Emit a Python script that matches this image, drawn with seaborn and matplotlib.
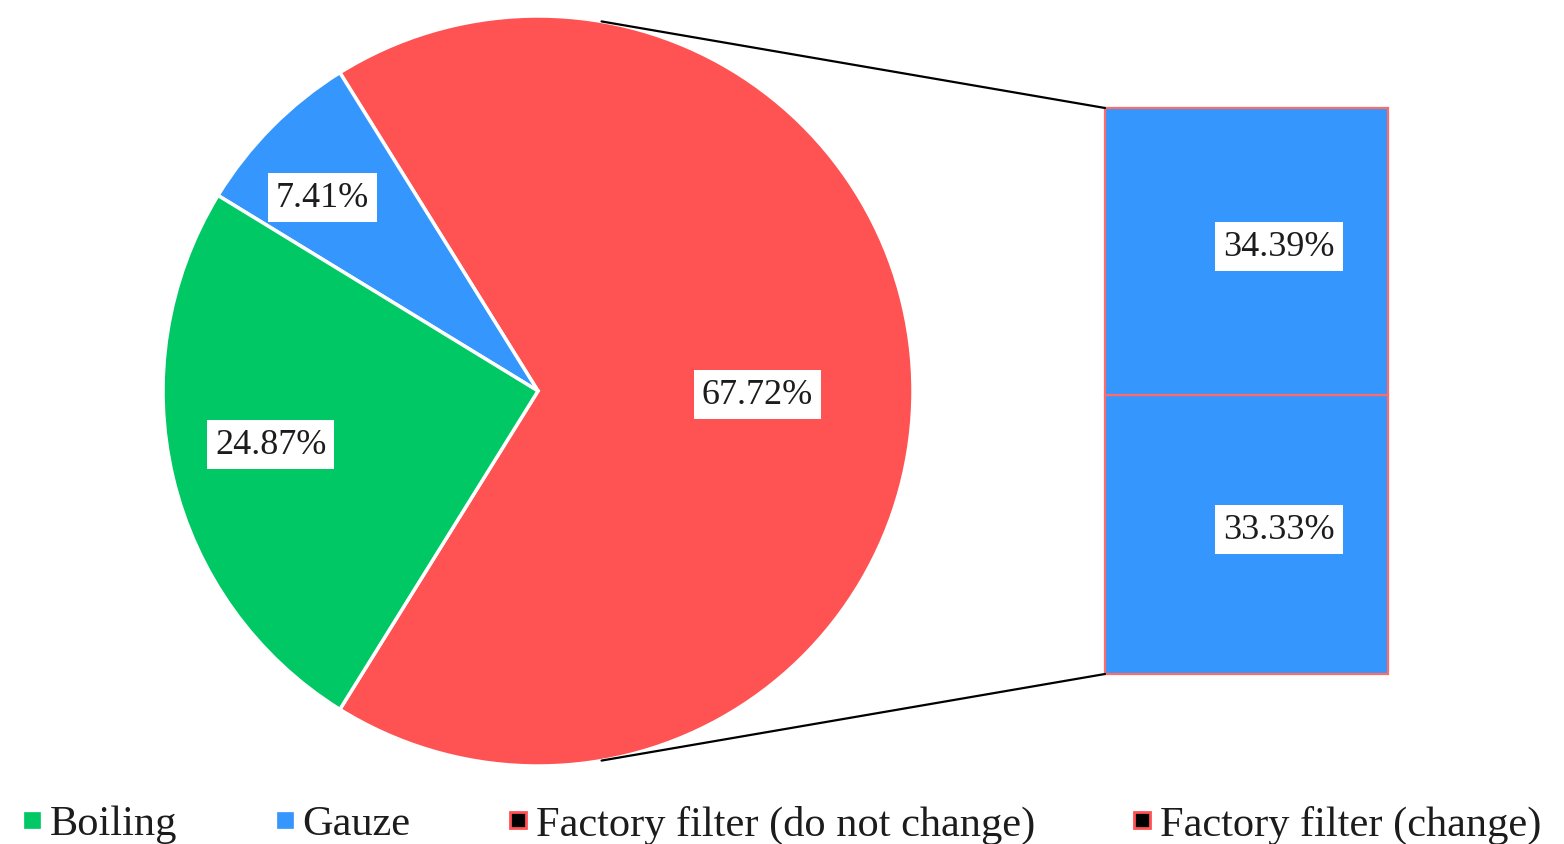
import numpy as np
import matplotlib
matplotlib.use("Agg")
import matplotlib.pyplot as plt
from matplotlib.patches import ConnectionPatch
from matplotlib.lines import Line2D
import seaborn as sns

# Share of respondents by drinking-water treatment method (%)
methods = ["Boiling", "Gauze", "Factory filter"]
method_share = [24.87, 7.41, 67.72]

# Factory filter users split by whether they replace the filter (%)
filter_groups = ["Factory filter (do not change)", "Factory filter (change)"]
filter_share = [33.33, 34.39]  # stacked bottom to top

sns.set_theme(style="white")
plt.rcParams["font.family"] = ["Liberation Serif", "DejaVu Serif"]

GREEN = "#00C864"
BLUE = "#3597FE"
RED = "#FF5252"
EDGE_RED = "#FF6B6B"
TEXT = "#1c1c1c"

fig = plt.figure(figsize=(15.64, 8.45), dpi=100)
fig.patch.set_facecolor("white")

W, H = 1564, 845
ax_pie = fig.add_axes([163 / W, 78 / H, 750 / W, 750 / H])
ax_bar = fig.add_axes([1105 / W, 170 / H, 283 / W, 566 / H])

# ---- pie: factory filter wedge centred on the right-hand side ----
pie_vals = method_share[::-1]
pie_cols = [RED, BLUE, GREEN]
start = -180 * pie_vals[0] / sum(pie_vals)
wedges, _ = ax_pie.pie(
    pie_vals, colors=pie_cols, startangle=start, counterclock=True,
    radius=1, wedgeprops=dict(edgecolor="white", linewidth=2.5),
)
ax_pie.set_xlim(-1.0, 1.0)
ax_pie.set_ylim(-1.0, 1.0)
ax_pie.set_aspect("equal")
ax_pie.axis("off")

box = dict(boxstyle="square,pad=0.22", facecolor="white", edgecolor="none")
label_dist = [0.585, 0.78, 0.725]
label_turn = [0.0, 2.3, -2.8]  # degrees away from the wedge bisector
for w, v, d, t in zip(wedges, pie_vals, label_dist, label_turn):
    mid = np.deg2rad((w.theta1 + w.theta2) / 2 + t)
    ax_pie.text(d * np.cos(mid), d * np.sin(mid) - 0.01, f"{v:.2f}%",
                ha="center", va="center", fontsize=26, color=TEXT,
                bbox=box)

# ---- stacked bar breaking down the factory filter wedge ----
total = sum(filter_share)
bottom = 0.0
for h in filter_share:
    ax_bar.bar(0, h, bottom=bottom, width=1, color=BLUE,
               edgecolor=EDGE_RED, linewidth=1.6, clip_on=False)
    ax_bar.text(0.115, bottom + h / 2 + 0.6, f"{h:.2f}%", ha="center",
                va="center", fontsize=26, color=TEXT, bbox=box)
    bottom += h
ax_bar.set_xlim(-0.5, 0.5)
ax_bar.set_ylim(0, total)
ax_bar.axis("off")

# ---- connector lines tangent to the pie ----
ax_pie.apply_aspect()
to_pie = ax_pie.transData.inverted()
for ycorner, sign in [(total, 1), (0, -1)]:
    p = to_pie.transform(ax_bar.transData.transform((-0.5, ycorner)))
    dist = np.hypot(*p)
    ang = np.arctan2(p[1], p[0]) + sign * np.arccos(1 / dist)
    con = ConnectionPatch(
        xyA=(-0.5, ycorner), coordsA=ax_bar.transData,
        xyB=(np.cos(ang), np.sin(ang)), coordsB=ax_pie.transData,
        color="black", linewidth=1.6,
    )
    fig.add_artist(con)

# ---- legend ----
def square(face, edge, size, ew):
    return Line2D([], [], marker="s", linestyle="none", markersize=size,
                  markerfacecolor=face, markeredgecolor=edge,
                  markeredgewidth=ew)

handles = [square(GREEN, GREEN, 11, 0.5), square(BLUE, BLUE, 11, 0.5),
           square("black", RED, 11.5, 2.0), square("black", RED, 11.5, 2.0)]
labels = methods[:2] + filter_groups
fig.legend(handles, labels, loc="center", bbox_to_anchor=(0.5, 20 / H),
           ncol=4, frameon=False, fontsize=30.5, handlelength=0.45,
           handletextpad=0.2, columnspacing=2.3, borderpad=0.0,
           labelcolor=TEXT)

fig.savefig("out.png", dpi=100, facecolor="white")
